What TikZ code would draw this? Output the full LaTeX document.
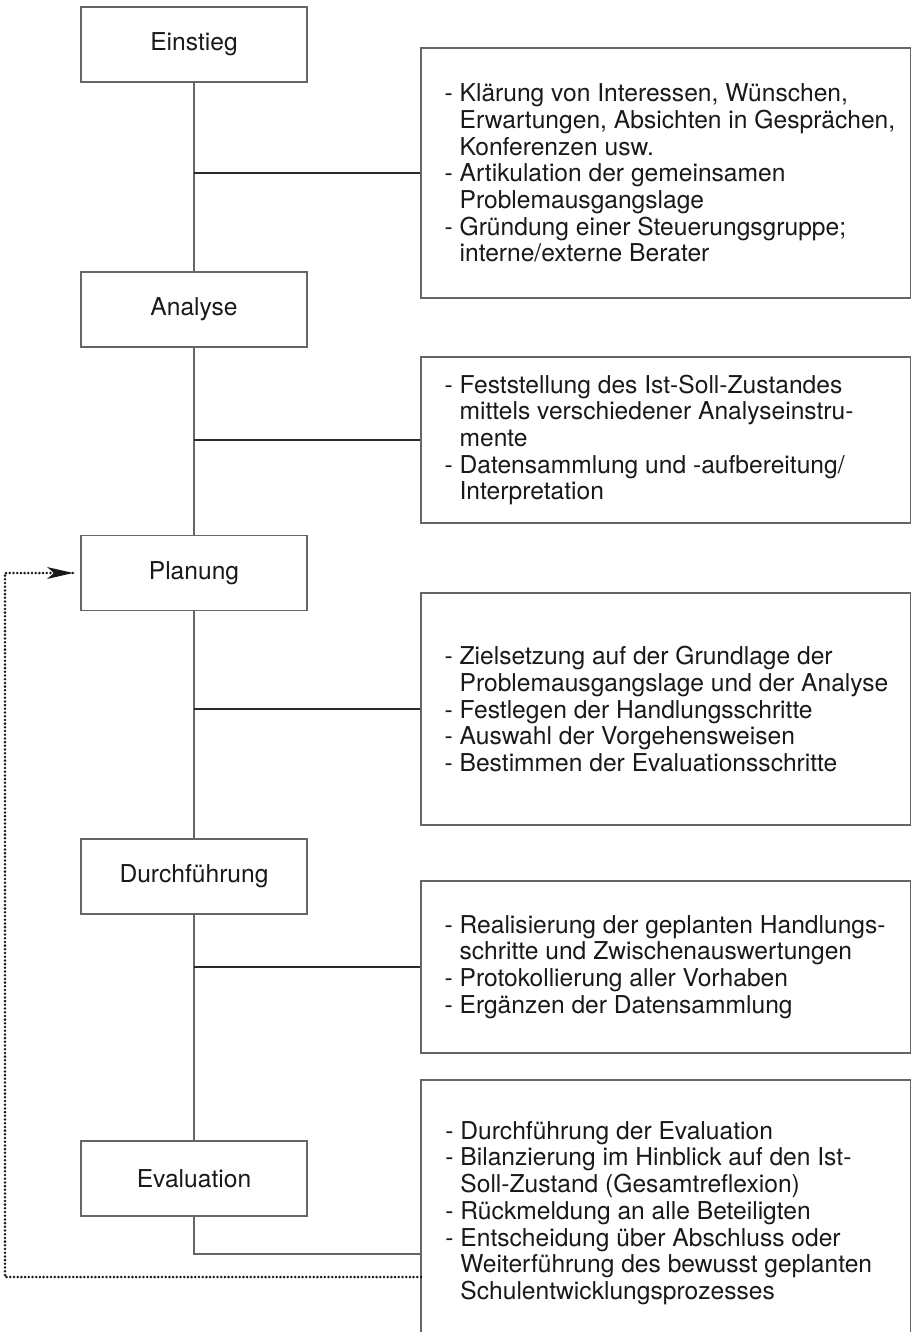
\documentclass[tikz,border=0pt]{standalone}
\usepackage{fontspec}
\setmainfont{TeX Gyre Heros}
\usetikzlibrary{arrows.meta}
\definecolor{boxline}{HTML}{666666}
\definecolor{conline}{HTML}{2A2A2A}
\definecolor{txt}{HTML}{1A1818}
\newcommand{\contind}{\phantom{- }}
\begin{document}
\begin{tikzpicture}[x=0.5pt,y=-0.5pt,
  lbl/.style={font=\fontsize{12.3pt}{13.35pt}\selectfont, text=txt},
  stage/.style={lbl, draw=boxline, line width=0.8pt, minimum width=113pt, minimum height=37.5pt, inner sep=0pt},
  infobox/.style={draw=boxline, line width=0.8pt, inner sep=0pt, minimum width=244.75pt},
  infotext/.style={lbl, anchor=west, align=left, inner sep=0pt},
  link/.style={draw=boxline, line width=0.8pt},
  branch/.style={draw=conline, line width=0.8pt},
  feedback/.style={draw=black!90, line width=1.4pt, line cap=round, dash pattern=on 0pt off 1.85pt}
]
\useasboundingbox (0,0) rectangle (912,1332);

% stage boxes
\node[stage] (einstieg) at (194,44.5) {Einstieg};
\node[stage] (analyse) at (194,309.5) {Analyse};
\node[stage] (planung) at (194,573) {Planung};
\node[stage] (durch) at (194,876.5) {Durchführung};
\node[stage] (eval) at (194,1178.5) {Evaluation};

% info boxes
\node[infobox, minimum height=125pt] (r1) at (665.75,173) {};
\node[infobox, minimum height=83pt] (r2) at (665.75,440) {};
\node[infobox, minimum height=116pt] (r3) at (665.75,709) {};
\node[infobox, minimum height=86pt] (r4) at (665.75,967) {};
\coordinate (b5tl) at (421,1080);
\coordinate (b5tr) at (910.5,1080);
\coordinate (b5bl) at (421,1332);
\coordinate (b5br) at (910.5,1332);
\draw[link] (b5bl) -- (b5tl) -- (b5tr) -- (b5br);

% texts
\node[infotext, xshift=12pt] (t1) at (r1.west) {- Klärung von Interessen, Wünschen,\\
\contind Erwartungen, Absichten in Gesprächen,\\
\contind Konferenzen usw.\\
- Artikulation der gemeinsamen\\
\contind Problemausgangslage\\
- Gründung einer Steuerungsgruppe;\\
\contind interne/externe Berater};
\node[infotext, xshift=12pt] (t2) at (r2.west) {- Feststellung des Ist-Soll-Zustandes\\
\contind mittels verschiedener Analyseinstru-\\
\contind mente\\
- Datensammlung und -aufbereitung/\\
\contind Interpretation};
\node[infotext, xshift=12pt] (t3) at (r3.west) {- Zielsetzung auf der Grundlage der\\
\contind Problemausgangslage und der Analyse\\
- Festlegen der Handlungsschritte\\
- Auswahl der Vorgehensweisen\\
- Bestimmen der Evaluationsschritte};
\node[infotext, xshift=12pt] (t4) at (r4.west) {- Realisierung der geplanten Handlungs-\\
\contind schritte und Zwischenauswertungen\\
- Protokollierung aller Vorhaben\\
- Ergänzen der Datensammlung};
\node[infotext] (t5) at (445,1213) {- Durchführung der Evaluation\\
- Bilanzierung im Hinblick auf den Ist-\\
\contind Soll-Zustand (Gesamtreflexion)\\
- Rückmeldung an alle Beteiligten\\
- Entscheidung über Abschluss oder\\
\contind Weiterführung des bewusst geplanten\\
\contind Schulentwicklungsprozesses};

% main vertical line
\draw[link] (einstieg.south) -- (analyse.north);
\draw[link] (analyse.south) -- (planung.north);
\draw[link] (planung.south) -- (durch.north);
\draw[link] (durch.south) -- (eval.north);

% branches
\draw[branch] (einstieg.south |- r1.west) -- (r1.west);
\draw[branch] (analyse.south |- r2.west) -- (r2.west);
\draw[branch] (planung.south |- r3.west) -- (r3.west);
\draw[branch] (durch.south |- r4.west) -- (r4.west);
\coordinate (e5) at (421,1254);
\draw[link] (eval.south) |- (e5);

% feedback loop
\coordinate (d5) at (421,1277);
\coordinate (fb) at (5,573);
\coordinate (pin) at (73,573);
\draw[feedback] (d5) -| (fb) -- (pin);
\draw[draw=none, fill=black!90] (pin) -- ++(-26,-6) -- ++(7,6) -- ++(-7,6) -- cycle;
\end{tikzpicture}
\end{document}
